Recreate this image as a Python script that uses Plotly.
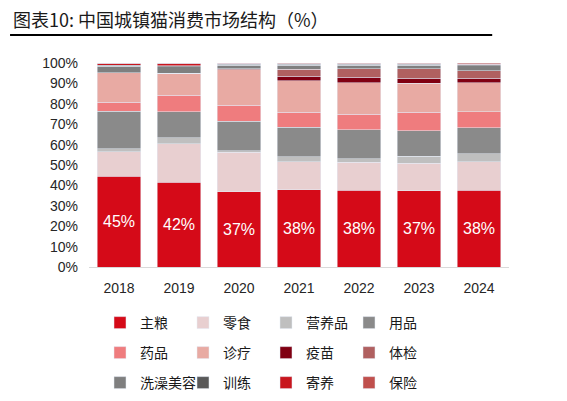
import plotly.graph_objects as go

years = ["2018", "2019", "2020", "2021", "2022", "2023", "2024"]

# shares (%) per category, bottom to top
zhuliang = [44.6, 41.6, 36.9, 37.8, 37.6, 37.4, 37.6]
lingshi = [11.9, 18.8, 19.3, 13.9, 13.7, 13.5, 14.0]
yingyang = [1.5, 3.0, 0.9, 2.4, 1.8, 3.5, 3.9]
yongpin = [18.3, 12.6, 14.3, 14.4, 14.1, 12.4, 12.7]
yaopin = [4.4, 8.2, 7.9, 7.3, 7.8, 9.0, 7.8]
zhenliao = [14.6, 10.9, 17.5, 15.4, 15.3, 14.2, 14.2]
yimiao = [0.0, 0.0, 0.0, 2.2, 2.7, 2.5, 2.3]
tijian = [0.0, 0.0, 0.3, 3.5, 4.1, 4.6, 3.7]
xizao = [3.0, 3.0, 1.9, 2.0, 1.8, 1.9, 2.4]
xunlian = [0.5, 0.5, 0.4, 0.5, 0.4, 0.4, 0.5]
jiyang = [1.2, 1.4, 0.6, 0.3, 0.3, 0.3, 0.4]
baoxian = [0.0, 0.0, 0.0, 0.3, 0.4, 0.3, 0.5]

y_ticks = list(range(0, 101, 10))
y_labels = [f"{v}%" for v in y_ticks]

series = [
    ("主粮", zhuliang, "#D50A18", "legend"),
    ("零食", lingshi, "#E8CFD0", "legend"),
    ("营养品", yingyang, "#BFBFBF", "legend"),
    ("用品", yongpin, "#8A8A8A", "legend"),
    ("药品", yaopin, "#EF7C7E", "legend2"),
    ("诊疗", zhenliao, "#E8AAA3", "legend2"),
    ("疫苗", yimiao, "#800012", "legend2"),
    ("体检", tijian, "#B06060", "legend2"),
    ("洗澡美容", xizao, "#7F7F7F", "legend3"),
    ("训练", xunlian, "#595959", "legend3"),
    ("寄养", jiyang, "#C8161E", "legend3"),
    ("保险", baoxian, "#C0504D", "legend3"),
]

W, H = 559, 393  # page body adds an 8px margin

fig = go.Figure()
for name, vals, color, leg in series:
    bar = go.Bar(x=years, y=vals, name=name, marker=dict(color=color),
                 legend=leg)
    if name == "主粮":
        bar.update(texttemplate="%{y:.0f}%", textposition="inside",
                   insidetextanchor="middle",
                   textfont=dict(color="white", size=16,
                                 family="Liberation Sans"))
    fig.add_trace(bar)

leg_style = dict(orientation="h", x=92 / W, xanchor="left", yanchor="middle",
                 xref="container", yref="container",
                 traceorder="normal", entrywidth=38, entrywidthmode="pixels",
                 font=dict(size=14, family="Noto Sans CJK SC", color="#1a1a1a"),
                 bgcolor="rgba(0,0,0,0)")

fig.update_layout(
    width=W, height=H,
    margin=dict(l=81, r=58, t=55, b=134),
    barmode="stack", bargap=0.27,
    plot_bgcolor="white", paper_bgcolor="white",
    showlegend=True,
    legend=dict(leg_style, y=1 - 315 / H),
    legend2=dict(leg_style, y=1 - 345 / H),
    legend3=dict(leg_style, y=1 - 375 / H),
    font=dict(family="Liberation Sans", color="#262626"),
)

# chart title as an annotation above the plot
fig.add_annotation(text="图表10: 中国城镇猫消费市场结构（%）",
                   xref="paper", yref="paper", x=-0.186, y=1.218,
                   xanchor="left", yanchor="middle", showarrow=False,
                   font=dict(size=18, family="Noto Sans CJK SC", color="#1a1a1a"))

fig.update_yaxes(range=[0, 100], tickmode="array", tickvals=y_ticks,
                 ticktext=y_labels, showgrid=False, zeroline=False,
                 showline=False, ticklabelstandoff=10, automargin=False,
                 tickfont=dict(size=14, family="Liberation Sans", color="#262626"))
fig.update_xaxes(showgrid=False, showline=True, linecolor="#D9D9D9",
                 linewidth=1, ticklabelstandoff=8, automargin=False,
                 tickfont=dict(size=14, family="Liberation Sans", color="#262626"))

# rule under the title
fig.add_shape(type="line", xref="paper", yref="paper",
              x0=-0.188, x1=0.96, y0=1.137, y1=1.137,
              line=dict(color="black", width=2))

fig.write_html("out.html")
